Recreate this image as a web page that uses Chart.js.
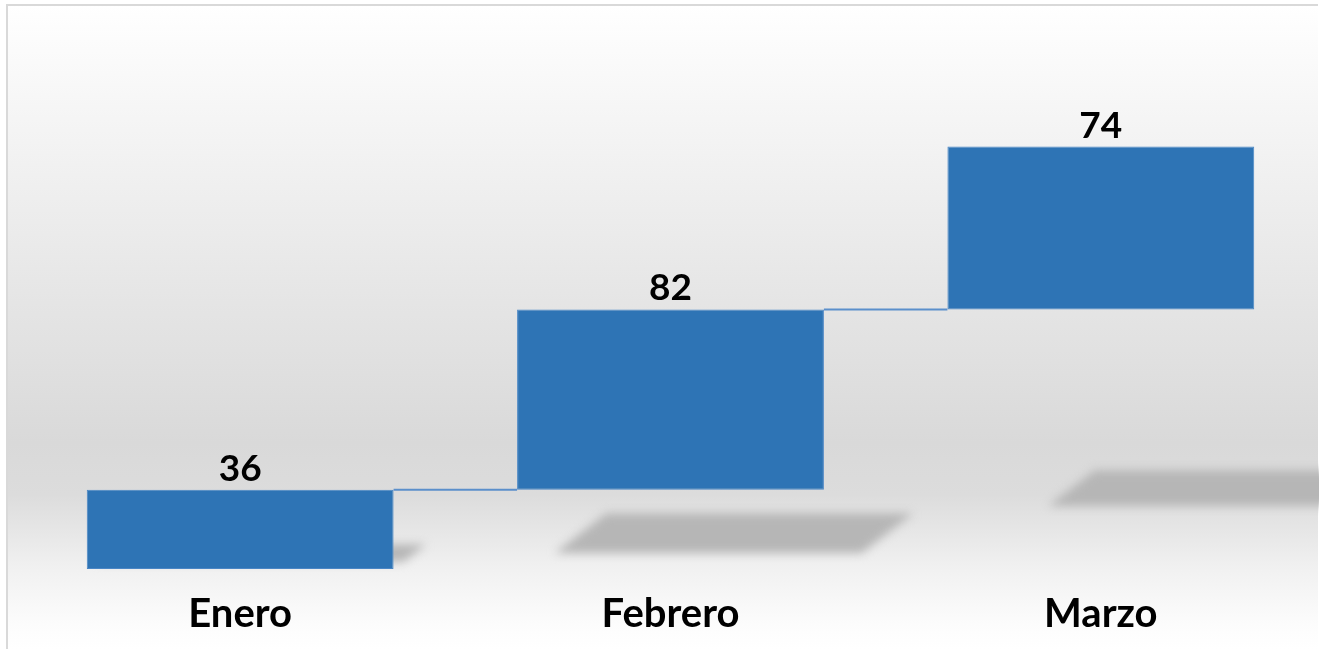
<!DOCTYPE html>
<html>
<head>
<meta charset="utf-8">
<title>Enero - Marzo</title>
<script src="https://cdn.jsdelivr.net/npm/chart.js@4/dist/chart.umd.min.js"></script>
<style>
  html, body { margin: 0; padding: 0; background: #ffffff; }
  #wrap { position: relative; width: 1319px; height: 649px; }
</style>
</head>
<body>
<div id="wrap"><canvas id="myChart"></canvas></div>
<script>
var categories = ['Enero', 'Febrero', 'Marzo'];
var values = [36, 82, 74];
var yMax = 200;

// waterfall: each bar starts where the previous one ended
var floating = [];
var running = 0;
for (var i = 0; i < values.length; i++) {
    floating.push([running, running + values[i]]);
    running += values[i];
}

var blue = '#2e74b5';

// frame + grey gradient behind the plot
var backdrop = {
    id: 'backdrop',
    beforeDraw: function(chart) {
        var ctx = chart.ctx;
        var h = chart.height;
        ctx.save();
        var g = ctx.createLinearGradient(0, 5, 0, h);
        g.addColorStop(0, '#ffffff');
        g.addColorStop(0.3, '#eeeeee');
        g.addColorStop(0.68, '#d9d9d9');
        g.addColorStop(0.76, '#dcdcdc');
        g.addColorStop(0.87, '#f0f0f0');
        g.addColorStop(0.96, '#fcfcfc');
        g.addColorStop(1, '#ffffff');
        ctx.fillStyle = g;
        ctx.fillRect(7, 5, chart.width - 8, h);
        ctx.strokeStyle = '#d9d9d9';
        ctx.lineWidth = 2;
        ctx.beginPath();
        ctx.moveTo(7, h + 2);
        ctx.lineTo(7, 5);
        ctx.lineTo(chart.width - 1, 5);
        ctx.stroke();
        ctx.restore();
    }
};

// soft skewed shadows under the bars, and the connector lines
var decor = {
    id: 'decor',
    beforeDatasetsDraw: function(chart) {
        var ctx = chart.ctx;
        var bars = chart.getDatasetMeta(0).data;
        var base = chart.scales.y.getPixelForValue(0);
        ctx.save();
        ctx.filter = 'blur(5px)';
        ctx.fillStyle = '#b6b6b6';
        bars.forEach(function(bar) {
            var left = bar.x - bar.width / 2;
            var right = bar.x + bar.width / 2;
            var rise = base - bar.base;
            var hgt = bar.base - bar.y;
            var mid = base - 16 - 0.25 * rise;
            var sh = 0.22 * hgt;
            var off = 10 + 0.35 * rise;
            var skew = 1.3 * sh;
            ctx.beginPath();
            ctx.moveTo(left + off, mid + sh / 2);
            ctx.lineTo(right + off, mid + sh / 2);
            ctx.lineTo(right + off + skew, mid - sh / 2);
            ctx.lineTo(left + off + skew, mid - sh / 2);
            ctx.closePath();
            ctx.fill();
        });
        ctx.restore();
    },
    afterDatasetsDraw: function(chart) {
        var ctx = chart.ctx;
        var bars = chart.getDatasetMeta(0).data;
        ctx.save();
        ctx.strokeStyle = '#5b8fcb';
        ctx.lineWidth = 2;
        for (var i = 0; i < bars.length - 1; i++) {
            var a = bars[i], b = bars[i + 1];
            ctx.beginPath();
            ctx.moveTo(a.x + a.width / 2, a.y);
            ctx.lineTo(b.x - b.width / 2, a.y);
            ctx.stroke();
        }
        // value labels
        ctx.fillStyle = '#000000';
        ctx.font = 'bold 37px Lato';
        ctx.textAlign = 'center';
        ctx.textBaseline = 'alphabetic';
        bars.forEach(function(bar, idx) {
            ctx.fillText(String(values[idx]), bar.x, bar.y - 9);
        });
        ctx.restore();
    }
};

var context = document.getElementById('myChart').getContext('2d');
var myChart = new Chart(context, {
    type: 'bar',
    data: {
        labels: categories,
        datasets: [{
            data: floating,
            backgroundColor: blue,
            borderColor: '#4a86c5',
            borderWidth: 1,
            borderSkipped: false,
            categoryPercentage: 1,
            barPercentage: 0.713
        }]
    },
    plugins: [backdrop, decor],
    options: {
        responsive: true,
        maintainAspectRatio: false,
        animation: false,
        layout: {
            padding: { top: 129, left: 25, right: 3, bottom: 0 }
        },
        plugins: {
            legend: { display: false },
            tooltip: { enabled: false }
        },
        scales: {
            x: {
                grid: { display: false, drawTicks: false },
                border: { display: false },
                ticks: {
                    color: '#000000',
                    padding: 21,
                    font: { family: 'Lato', weight: 'bold', size: 40 }
                },
                afterFit: function(scale) {
                    scale.height = 80;
                }
            },
            y: {
                display: false,
                min: 0,
                max: yMax
            }
        }
    }
});
</script>
</body>
</html>
